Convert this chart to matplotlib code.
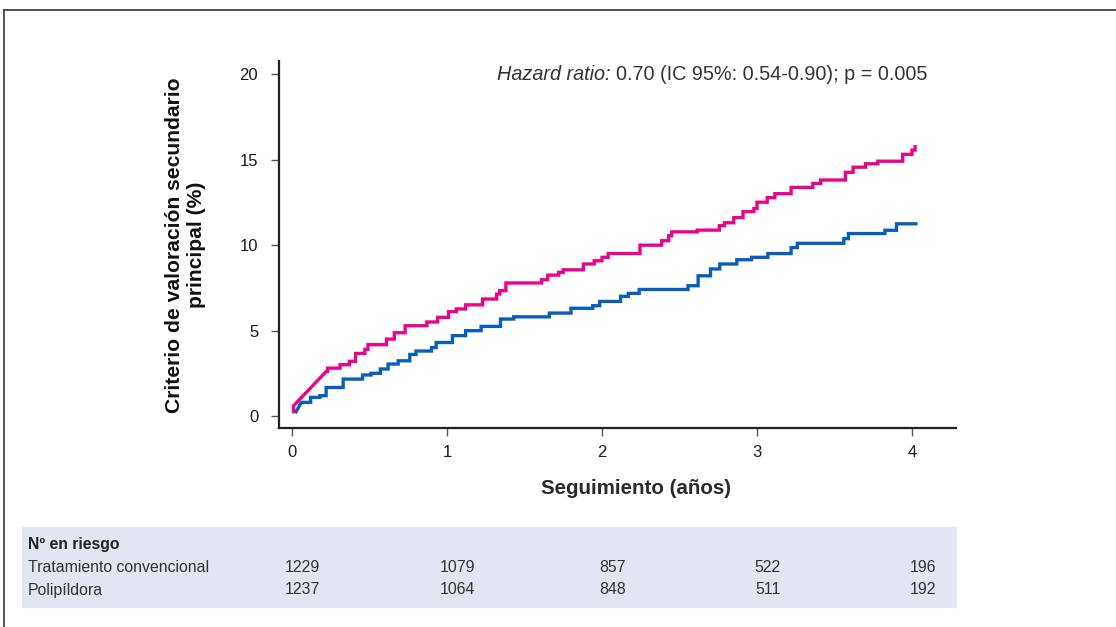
import matplotlib
matplotlib.use("Agg")
import matplotlib.pyplot as plt
from matplotlib.patches import Rectangle
from matplotlib.lines import Line2D
from matplotlib.transforms import blended_transform_factory

plt.rcParams['font.family'] = ['Liberation Sans', 'DejaVu Sans']

# ---- data ----
pink_start_t = [0.01, 0.01, 0.22]
pink_start_v = [0.25, 0.6, 2.6]
pink_t = [0.23, 0.31, 0.37, 0.41, 0.47, 0.49, 0.61, 0.66, 0.73, 0.87, 0.94,
          1.01, 1.06, 1.12, 1.23, 1.32, 1.34, 1.38, 1.61, 1.65, 1.72, 1.75,
          1.88, 1.95, 2.00, 2.04, 2.245, 2.385, 2.43, 2.45, 2.615, 2.757,
          2.79, 2.85, 2.91, 2.98, 3.00, 3.066, 3.115, 3.22, 3.36, 3.41, 3.57,
          3.62, 3.70, 3.78, 3.94, 4.00, 4.02]
pink_v = [2.8, 3.0, 3.2, 3.66, 3.9, 4.17, 4.5, 4.87, 5.28, 5.5, 5.77,
          6.1, 6.26, 6.5, 6.84, 7.13, 7.33, 7.78, 7.97, 8.24, 8.4, 8.55,
          8.89, 9.08, 9.28, 9.5, 9.99, 10.25, 10.54, 10.77, 10.87, 11.13,
          11.3, 11.6, 11.95, 12.13, 12.5, 12.77, 13.0, 13.37, 13.6, 13.8, 14.25,
          14.55, 14.75, 14.9, 15.3, 15.55, 15.75]
pink_end = 4.02

blue_start_t = [0.026, 0.06]
blue_start_v = [0.25, 0.8]
blue_t = [0.12, 0.18, 0.22, 0.33, 0.455, 0.51, 0.57, 0.62, 0.685, 0.76, 0.80,
          0.90, 0.93, 1.035, 1.12, 1.22, 1.345, 1.43, 1.66, 1.80, 1.94, 1.985,
          2.12, 2.17, 2.24, 2.555, 2.62, 2.70, 2.76, 2.87, 2.965, 3.07, 3.22,
          3.26, 3.56, 3.59, 3.825, 3.90]
blue_v = [1.09, 1.19, 1.67, 2.16, 2.4, 2.5, 2.75, 3.04, 3.23, 3.6, 3.8,
          4.0, 4.3, 4.7, 4.99, 5.24, 5.67, 5.8, 6.02, 6.3, 6.45, 6.7,
          7.0, 7.17, 7.4, 7.62, 8.2, 8.6, 8.89, 9.14, 9.28, 9.5, 9.85,
          10.1, 10.37, 10.67, 10.86, 11.24]
blue_end = 4.025

x_ticks = [0, 1, 2, 3, 4]
y_ticks = [0, 5, 10, 15, 20]

risk_title = "Nº en riesgo"
risk_groups = ["Tratamiento convencional", "Polipíldora"]
risk_conv = [1229, 1079, 857, 522, 196]
risk_poly = [1237, 1064, 848, 511, 192]

PINK = "#E8058B"
BLUE = "#0A5EBB"
TXT = "#2a2a2a"

W, H = 1116, 627
fig = plt.figure(figsize=(W / 100, H / 100), dpi=100)


def fx(p):
    return p / W


def fy(p):
    return 1 - p / H


# frame lines (top & left)
fig.add_artist(Line2D([fx(4), 1.0], [fy(9.5), fy(9.5)], color="#444444", lw=1.3))
fig.add_artist(Line2D([fx(4), fx(4)], [fy(9.5), 0.0], color="#444444", lw=1.3))

ax = fig.add_axes([fx(279), fy(428), fx(956) - fx(279), fy(61) - fy(428)])
ax.set_xlim(-0.084, 4.284)
ax.set_ylim(-0.70, 20.76)


def step_path(st, sv, t, v, tend):
    xs, ys = list(st), list(sv)
    for ti, vi in zip(t, v):
        xs += [ti, ti]
        ys += [ys[-1], vi]
    xs.append(tend)
    ys.append(ys[-1])
    return xs, ys


px_, py_ = step_path(pink_start_t, pink_start_v, pink_t, pink_v, pink_end)
bx_, by_ = step_path(blue_start_t, blue_start_v, blue_t, blue_v, blue_end)
ax.plot(bx_, by_, color=BLUE, lw=2.4, solid_joinstyle="miter")
ax.plot(px_, py_, color=PINK, lw=2.4, solid_joinstyle="miter")

for s in ["top", "right"]:
    ax.spines[s].set_visible(False)
for s in ["left", "bottom"]:
    ax.spines[s].set_color("#222222")
    ax.spines[s].set_linewidth(1.6)

ax.set_xticks(x_ticks)
ax.set_yticks(y_ticks)
ax.tick_params(axis="both", length=6, width=1.0, color="#555555",
               labelsize=12, labelcolor="#1a1a1a")
ax.tick_params(axis="y", pad=9)
ax.tick_params(axis="x", pad=6)

ax.set_xlabel("Seguimiento (años)", fontsize=14.8, fontweight="bold",
              color=TXT)
ax.xaxis.set_label_coords((636 - 279) / 677, (428 - 489) / 367)
ax.xaxis.label.set_va("center")
fig.text(fx(186), fy(245), "Criterio de valoración secundario\nprincipal (%)",
         rotation=90, ha="center", va="center", fontsize=15.2,
         fontweight="bold", color="#111111", linespacing=1.2)

FS = 14.35
t1 = fig.text(fx(497), fy(75), "Hazard ratio:", ha="left", va="center",
              fontsize=FS, color="#333333", style="italic")
fig.canvas.draw()
bb = t1.get_window_extent()
t2 = fig.text((bb.x1 + 5) / W, fy(75), "0.70 (IC 95%: 0.54-0.90); p = 0.005",
              ha="left", va="center", fontsize=FS, color="#333333")

# risk table
fig.add_artist(Rectangle((fx(22), fy(608)), fx(957) - fx(22), fy(527) - fy(608),
                         transform=fig.transFigure, facecolor="#E1E6F2",
                         edgecolor="none", zorder=0))
fig.text(fx(28), fy(544), risk_title, ha="left", va="center", fontsize=11.3,
         fontweight="bold", color="#222222")
trans = blended_transform_factory(ax.transData, fig.transFigure)
for label, vals, ypix in [(risk_groups[0], risk_conv, 567),
                          (risk_groups[1], risk_poly, 590)]:
    fig.text(fx(28), fy(ypix), label, ha="left", va="center", fontsize=11.4,
             color="#333333")
    for xt, v in zip(x_ticks, vals):
        ax.text(xt + 0.07, fy(ypix), str(v), transform=trans, ha="center",
                va="center", fontsize=11.4, color="#333333", clip_on=False)

fig.savefig("out.png", dpi=100)
